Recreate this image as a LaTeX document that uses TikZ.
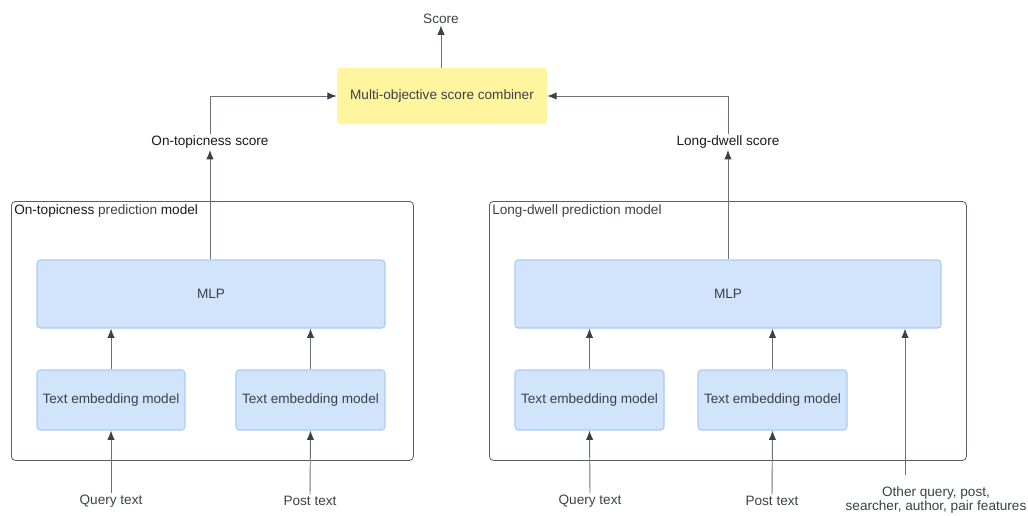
\documentclass[tikz,border=0pt]{standalone}
\usepackage{fontspec}
\setmainfont{Liberation Sans}
\usetikzlibrary{arrows.meta}
\definecolor{txt}{HTML}{3A414A}
\definecolor{blk}{HTML}{1A1A1A}
\definecolor{bfill}{HTML}{D1E4FC}
\definecolor{bdraw}{HTML}{A9CCF5}
\definecolor{yfill}{HTML}{FFF59E}
\definecolor{ln}{HTML}{6B7079}
\definecolor{tip}{HTML}{3A414A}
\definecolor{frame}{HTML}{5A5F66}
\tikzset{
  bluebox/.style={draw=bdraw, fill=bfill, rounded corners=2.5pt, line width=0.8pt, text=txt, inner sep=0pt},
  ybox/.style={fill=yfill, rounded corners=2.5pt, text=txt, inner sep=0pt},
  container/.style={draw=frame, rounded corners=3pt, line width=0.6pt},
  lbl/.style={text=txt, inner sep=1pt, align=center},
  conn/.style={draw=ln, line width=0.7pt, -{Latex[length=7pt,width=5.5pt,color=tip]}},
}
\begin{document}
\begin{tikzpicture}[x=0.75pt,y=-0.75pt, font=\fontsize{10.2pt}{12pt}\selectfont]
\useasboundingbox (0,0) rectangle (1028,515);
% containers
\node[container, minimum width=402*0.75pt, minimum height=259*0.75pt, anchor=north west, inner sep=0pt] (lc) at (11,201) {};
\node[container, minimum width=477*0.75pt, minimum height=259*0.75pt, anchor=north west, inner sep=0pt] (rc) at (489,201) {};
\node[anchor=west, inner sep=0pt] (lcl) at (14,211) {\color{blk}On-topicness \color{txt}prediction \color{blk}model};
\node[anchor=west, inner sep=0pt, text=txt] (rcl) at (492,211) {Long-dwell prediction model};
% top
\node[lbl] (score) at (441,19) {Score};
\node[ybox, minimum width=210*0.75pt, minimum height=56*0.75pt] (comb) at (442,96) {Multi-objective score combiner};
\node[lbl, text=blk] (ots) at (210,142) {On-topicness score};
\node[lbl, text=blk] (lds) at (728,142) {Long-dwell score};
% left model
\node[bluebox, minimum width=348*0.75pt, minimum height=68*0.75pt] (lmlp) at (211,294) {MLP};
\node[bluebox, minimum width=148*0.75pt, minimum height=60*0.75pt] (le1) at (111,400) {Text embedding model};
\node[bluebox, minimum width=149*0.75pt, minimum height=60*0.75pt] (le2) at (310.5,400) {Text embedding model};
\node[lbl] (lq) at (111,501) {Query text};
\node[lbl] (lp) at (310,501) {Post text};
% right model
\node[bluebox, minimum width=426*0.75pt, minimum height=68*0.75pt] (rmlp) at (728,294) {MLP};
\node[bluebox, minimum width=149*0.75pt, minimum height=60*0.75pt] (re1) at (589.5,400) {Text embedding model};
\node[bluebox, minimum width=149*0.75pt, minimum height=60*0.75pt] (re2) at (772.5,400) {Text embedding model};
\node[lbl] (rq) at (590,501) {Query text};
\node[lbl] (rp) at (772,501) {Post text};
\node[lbl, font=\fontsize{10.2pt}{11.2pt}\selectfont] (rf) at (936,500) {Other query, post,\\searcher, author, pair features};
\coordinate (rfs) at (905,475);
% connectors
\draw[conn] (comb.north -| score) -- (score.south);
\draw[conn] (ots.north) |- (comb.west);
\draw[conn] (lds.north) |- (comb.east);
\draw[conn] (lmlp.north -| ots) -- (ots.south);
\draw[conn] (rmlp.north -| lds) -- (lds.south);
\draw[conn] (le1.north) -- (le1.north |- lmlp.south);
\draw[conn] (le2.north) -- (le2.north |- lmlp.south);
\draw[conn] (re1.north) -- (re1.north |- rmlp.south);
\draw[conn] (re2.north) -- (re2.north |- rmlp.south);
\draw[conn] (rfs) -- (rfs |- rmlp.south);
\draw[conn] (lq.north) -- (le1.south);
\draw[conn] (lp.north) -- (le2.south);
\draw[conn] (rq.north) -- (re1.south);
\draw[conn] (rp.north) -- (re2.south);
\end{tikzpicture}
\end{document}
